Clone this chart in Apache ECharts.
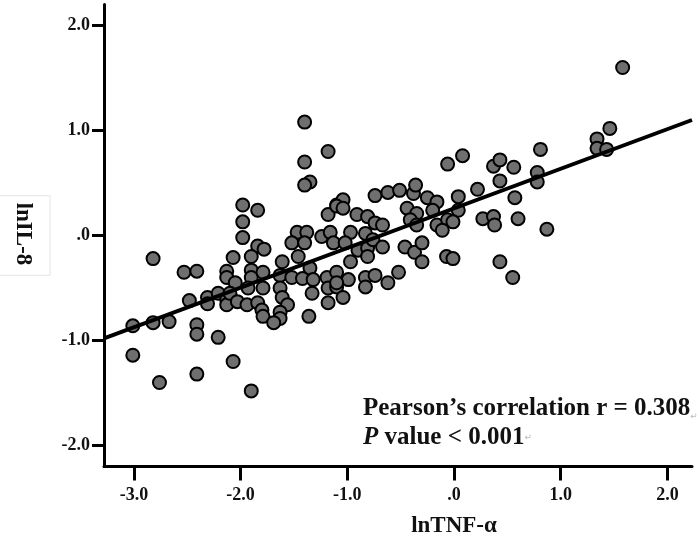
<!DOCTYPE html>
<html><head><meta charset="utf-8">
<script src="https://cdn.jsdelivr.net/npm/echarts@6/dist/echarts.min.js"></script>
<style>html,body{margin:0;padding:0;background:#fff}#c{width:699px;height:543px}</style>
</head><body><div id="c"></div>
<script>
var xTicks = [-3, -2, -1, 0, 1, 2];
var xTickLabels = ['-3.0', '-2.0', '-1.0', '.0', '1.0', '2.0'];
var yTicks = [-2, -1, 0, 1, 2];
var yTickLabels = ['-2.0', '-1.0', '.0', '1.0', '2.0'];

var lnTNF = [
-3.01,-3.01,-2.82,-2.82,-2.76,-2.67,-2.53,-2.41,-2.41,-2.41,-2.41,-2.48,-2.31,-2.31,-2.21,-2.21,-2.13,-2.13,-2.13,-2.13,
-2.07,-2.07,-2.05,-2.10,-2.03,-1.98,-1.84,-1.98,-1.98,-1.84,-1.78,-1.90,-1.90,-1.90,-1.79,-1.79,-1.93,-1.94,-1.84,-1.80,
-1.79,-1.90,-1.47,-1.38,-1.52,-1.40,-1.24,-1.16,-1.18,-1.10,-1.13,-1.61,-1.46,-1.35,-1.63,-1.52,-1.42,-1.32,-1.19,-1.10,
-1.63,-1.61,-1.56,-1.63,-1.63,-1.69,-1.33,-1.18,-1.18,-1.36,-1.40,-1.18,-1.40,-1.35,-1.40,-0.74,-0.62,-0.51,-0.38,-0.36,
-1.04,-1.10,-1.04,-0.91,-0.81,-0.74,-0.67,-0.44,-0.35,-0.41,-0.35,-0.25,-0.97,-0.83,-1.02,-0.90,-0.81,-0.76,-0.67,-0.81,
-0.97,-0.46,-0.37,-0.30,-0.30,-0.99,-1.10,-1.04,-0.83,-0.74,-0.83,-0.52,-0.62,-1.10,-0.16,-0.20,-0.16,-0.06,-0.11,0.04,
-0.01,0.04,0.22,0.08,-0.06,0.37,0.43,0.56,0.43,0.57,0.27,0.37,0.38,0.60,-0.07,-0.01,0.43,0.55,0.81,0.78,
0.78,0.87,1.34,1.34,1.43,1.46,1.58
];
var lnIL8 = [
-0.86,-1.14,-0.22,-0.83,-1.40,-0.82,-0.35,-0.34,-0.85,-0.94,-1.32,-0.62,-0.59,-0.65,-0.55,-0.97,-0.34,-0.40,-0.61,-0.66,
-0.21,-1.20,-0.45,-0.55,-0.63,0.29,0.24,0.13,-0.02,-0.10,-0.13,-0.20,-0.33,-0.40,-0.35,-0.50,-0.50,-0.66,-0.64,-0.71,
-0.77,-1.48,0.03,0.03,-0.07,-0.07,-0.01,0.03,0.20,0.29,-0.07,-0.25,-0.20,-0.31,-0.38,-0.40,-0.41,-0.42,-0.40,-0.35,
-0.50,-0.59,-0.66,-0.73,-0.79,-0.83,-0.55,-0.50,-0.64,-0.77,1.08,0.80,0.70,0.51,0.48,0.38,0.41,0.43,0.40,0.48,
0.34,0.28,0.26,0.20,0.18,0.12,0.10,0.26,0.21,0.15,0.10,0.36,0.03,0.02,-0.07,-0.14,-0.12,-0.04,-0.11,-0.20,
-0.25,-0.11,-0.16,-0.07,-0.25,-0.42,-0.49,-0.59,-0.40,-0.38,-0.49,-0.35,-0.45,-0.45,0.32,0.24,0.10,0.15,0.05,0.24,
0.13,0.37,0.44,0.76,0.68,0.66,0.72,0.65,0.52,0.36,0.16,0.18,0.10,0.16,-0.20,-0.22,-0.25,-0.40,0.82,0.60,
0.51,0.06,0.92,0.83,0.82,1.02,1.60
];
var fitX = [-3.28, 2.23];
var fitY = [-0.98, 1.10];

var points = lnTNF.map(function (v, i) { return [v, lnIL8[i]]; });
var fitLine = fitX.map(function (v, i) { return [v, fitY[i]]; });

var serif = '"Liberation Serif", "Times New Roman", serif';
var chart = echarts.init(document.getElementById('c'));
chart.setOption({
  animation: false,
  backgroundColor: '#fff',
  grid: { left: 104, right: 7, top: 4.5, bottom: 76.5, outerBoundsMode: 'none', containLabel: false },
  xAxis: {
    type: 'value', min: -3.28, max: 2.23,
    name: 'lnTNF-\u03b1', nameLocation: 'middle', nameGap: 48,
    nameTextStyle: { fontFamily: serif, fontSize: 23, fontWeight: 'bold', color: '#111', padding: [0, 0, 0, 112] },
    axisLine: { show: true, onZero: false, lineStyle: { color: '#000', width: 3 } },
    axisTick: { show: true, customValues: xTicks, length: 14, lineStyle: { color: '#000', width: 3 } },
    axisLabel: { customValues: xTicks, margin: 20, fontFamily: serif, fontSize: 18, fontWeight: 'bold', color: '#111',
      formatter: function (v) { var k = xTicks.indexOf(Math.round(v)); return k >= 0 ? xTickLabels[k] : ''; } },
    splitLine: { show: false }
  },
  yAxis: {
    type: 'value', min: -2.2, max: 2.2,
    name: 'lnIL-8', nameLocation: 'middle', nameGap: 47, nameRotate: -90,
    nameTextStyle: { fontFamily: serif, fontSize: 23, fontWeight: 'bold', color: '#111',
      borderColor: '#e4e4e4', borderWidth: 1, padding: [16, 10, 22, 7] },
    axisLine: { show: true, onZero: false, lineStyle: { color: '#000', width: 3 } },
    axisTick: { show: true, customValues: yTicks, length: 12, lineStyle: { color: '#000', width: 3 } },
    axisLabel: { customValues: yTicks, margin: 14, fontFamily: serif, fontSize: 18, fontWeight: 'bold', color: '#111',
      formatter: function (v) { var k = yTicks.indexOf(Math.round(v)); return k >= 0 ? yTickLabels[k] : ''; } },
    splitLine: { show: false }
  },
  series: [
    { type: 'scatter', data: points, symbolSize: 13, z: 2,
      itemStyle: { color: '#6f6f6f', borderColor: '#000', borderWidth: 2, opacity: 1 } },
    { type: 'line', data: fitLine, symbol: 'none', z: 3,
      lineStyle: { color: '#000', width: 4 } }
  ],
  graphic: [
    { type: 'text', left: 363, top: 396, z: 10,
      style: { text: '{b|Pearson\u2019s correlation r = 0.308}{m|\u21b5}',
        rich: { b: { fontFamily: serif, fontSize: 25, fontWeight: 'bold', fill: '#111' },
                m: { fontFamily: 'DejaVu Sans', fontSize: 9, fill: '#bbb', verticalAlign: 'bottom' } } } },
    { type: 'text', left: 363, top: 425, z: 10,
      style: { text: '{i|P}{b| value < 0.001}{m|\u21b5}',
        rich: { i: { fontFamily: serif, fontSize: 25, fontWeight: 'bold', fontStyle: 'italic', fill: '#111' },
                b: { fontFamily: serif, fontSize: 25, fontWeight: 'bold', fill: '#111' },
                m: { fontFamily: 'DejaVu Sans', fontSize: 9, fill: '#bbb' } } } }
  ]
});
</script></body></html>
